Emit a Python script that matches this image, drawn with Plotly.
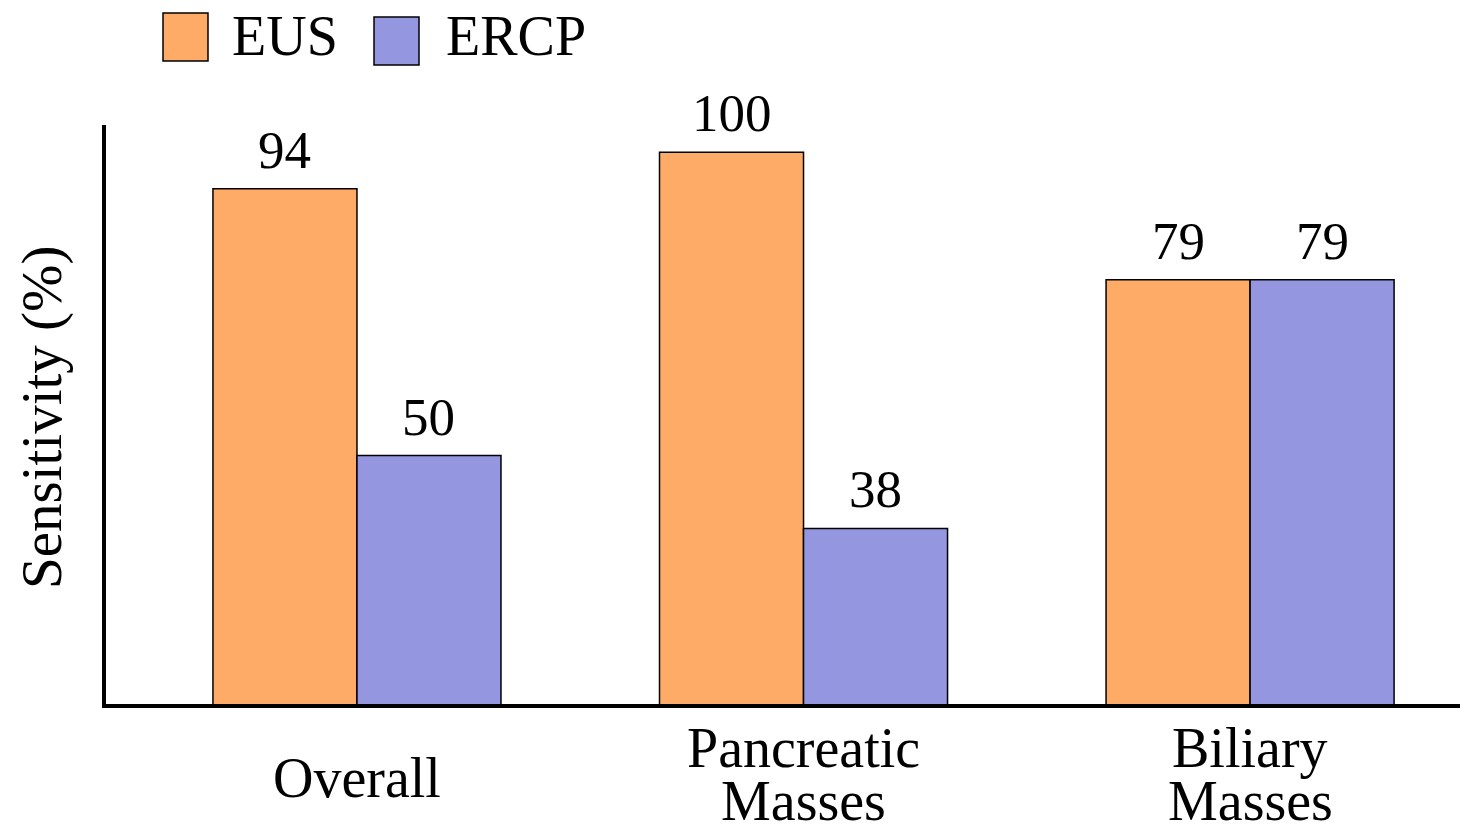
import plotly.graph_objects as go

categories = ["Overall", "Pancreatic\nMasses", "Biliary\nMasses"]
series_names = ["EUS", "ERCP"]
eus_values = [94, 100, 79]
ercp_values = [50, 38, 79]

colors = {"EUS": "#FFAB68", "ERCP": "#9497E0"}
FONT = "Liberation Serif, Times New Roman, serif"
FS_NUM = 53
FS_TXT = 56
FS_TITLE = 57

OFF = 8  # page body margin
W, H = 1468 - OFF, 826 - OFF
L, T = 106 - OFF, 125 - OFF
PLOT_BOTTOM = 704 - OFF
R, B = 0, H - PLOT_BOTTOM
PW, PH = W - L - R, H - T - B

XR = [-0.562, 2.488]
BARGAP = 0.355
unit_px = PW / (XR[1] - XR[0])
bar_px = unit_px * (1 - BARGAP) / 2


def px_x(px):
    return (px - OFF - L) / PW


def px_y(py):
    return (H - B - (py - OFF)) / PH


xcats = [c.replace("\n", " ") for c in categories]

fig = go.Figure()
annotations = []
for k, (name, vals) in enumerate(zip(series_names, [eus_values, ercp_values])):
    fig.add_trace(go.Bar(
        x=xcats, y=vals, name=name,
        marker=dict(color=colors[name], line=dict(color="black", width=1.5)),
        showlegend=False,
    ))
    shift = (k - 0.5) * bar_px
    for xc, v in zip(xcats, vals):
        annotations.append(dict(
            x=xc, y=v, xref="x", yref="y", text=str(v), showarrow=False,
            xanchor="center", yanchor="bottom", xshift=shift, yshift=8,
            font=dict(family=FONT, size=FS_NUM, color="black"),
        ))

# category labels
line_h = 53
for cat, xc in zip(categories, xcats):
    lines = cat.split("\n")
    n = len(lines)
    if n == 1:
        centers = [778]
    else:
        centers = [774 + (i - (n - 1) / 2) * line_h for i in range(n)]
    for ln, cy in zip(lines, centers):
        annotations.append(dict(
            x=xc, xref="x", y=px_y(cy), yref="paper", text=ln, showarrow=False,
            xanchor="center", yanchor="middle",
            font=dict(family=FONT, size=FS_TXT, color="black"),
        ))

# y-axis title
annotations.append(dict(
    x=px_x(42), xref="paper", y=px_y(417), yref="paper", text="Sensitivity (%)",
    textangle=-90, showarrow=False, xanchor="center", yanchor="middle",
    font=dict(family=FONT, size=FS_TITLE, color="black"),
))

# custom legend
shapes = []
legend_items = [(series_names[0], 163, 13, 230), (series_names[1], 374, 17, 444)]
for name, sx, sy, tx in legend_items:
    shapes.append(dict(
        type="rect", xref="paper", yref="paper",
        x0=px_x(sx), x1=px_x(sx + 45), y0=px_y(sy + 48), y1=px_y(sy),
        fillcolor=colors[name], line=dict(color="black", width=1.5),
    ))
    annotations.append(dict(
        x=px_x(tx), xref="paper", y=px_y(36), yref="paper", text=name,
        showarrow=False, xanchor="left", yanchor="middle",
        font=dict(family=FONT, size=FS_TXT, color="black"),
    ))

fig.update_layout(
    width=W, height=H,
    margin=dict(l=L, r=R, t=T, b=B, pad=0),
    paper_bgcolor="white", plot_bgcolor="white",
    barmode="group", bargap=BARGAP, bargroupgap=0,
    showlegend=False,
    xaxis=dict(range=XR, showticklabels=False, ticks="",
               showgrid=False, zeroline=False, showline=True,
               linecolor="black", linewidth=4),
    yaxis=dict(range=[9.05, 104.5], showticklabels=False, ticks="",
               showgrid=False, zeroline=False, showline=True,
               linecolor="black", linewidth=4),
    annotations=annotations, shapes=shapes,
    font=dict(family=FONT, size=FS_TXT, color="black"),
)

fig.write_html("out.html")
